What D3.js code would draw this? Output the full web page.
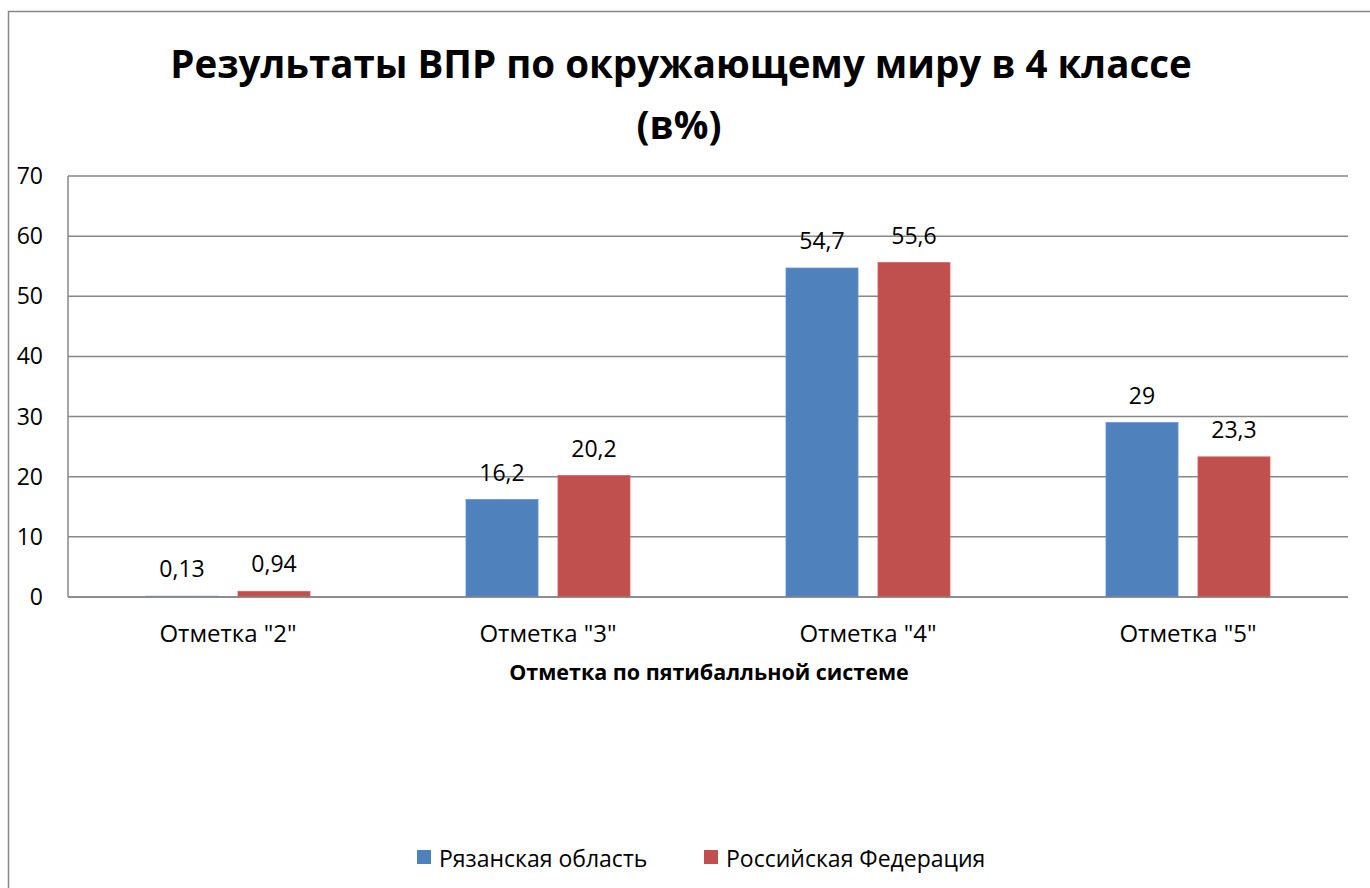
<!DOCTYPE html>
<html>
<head>
<meta charset="utf-8">
<script src="https://cdn.jsdelivr.net/npm/d3@7"></script>
<style>
  body { margin: 0; background: #fff; }
  svg { display: block; font-family: "Open Sans", "Noto Sans", sans-serif; }
  .grid line, .frame { stroke: #878787; stroke-width: 1.5; }
  .label { font-size: 23px; fill: #000; }
</style>
</head>
<body>
<svg id="chart" width="1370" height="888"></svg>
<script>
// data
let categories = ['Отметка "2"', 'Отметка "3"', 'Отметка "4"', 'Отметка "5"'];
let seriesNames = ["Рязанская область", "Российская Федерация"];
let ryazan = [0.13, 16.2, 54.7, 29];
let russia = [0.94, 20.2, 55.6, 23.3];
let labelsRyazan = ["0,13", "16,2", "54,7", "29"];
let labelsRussia = ["0,94", "20,2", "55,6", "23,3"];
let yTicks = [0, 10, 20, 30, 40, 50, 60, 70];
let colors = ["#4F81BD", "#C0504D"];

let svg = d3.select("#chart");

let plotLeft = 68, plotRight = 1348, plotTop = 176, plotBottom = 597;

// outer chart frame (runs off the picture on the right and bottom)
svg.append("rect")
  .attr("class", "frame")
  .attr("x", 8.5).attr("y", 11.5)
  .attr("width", 1400).attr("height", 900)
  .attr("fill", "none");

// title
let title = svg.append("text")
  .attr("text-anchor", "middle")
  .style("font-size", "38.5px")
  .style("font-weight", "bold");
title.append("tspan").attr("x", 681).attr("y", 78)
  .text("Результаты ВПР по окружающему миру в 4 классе");
title.append("tspan").attr("x", 679).attr("y", 139)
  .text("(в%)");

let y = d3.scaleLinear().domain([0, 70]).range([plotBottom, plotTop]);

let x0 = d3.scaleBand().domain(categories).range([plotLeft, plotRight]);

let x1 = d3.scaleBand().domain(seriesNames)
  .range([0, x0.bandwidth()])
  .paddingInner(0.217)
  .paddingOuter(0.848);

// gridlines
svg.append("g")
  .attr("class", "grid")
  .selectAll("line")
  .data(yTicks)
  .enter().append("line")
    .attr("x1", plotLeft).attr("x2", plotRight)
    .attr("y1", d => y(d)).attr("y2", d => y(d));

// y axis line
svg.append("line")
  .attr("class", "frame")
  .attr("x1", plotLeft).attr("x2", plotLeft)
  .attr("y1", plotTop).attr("y2", plotBottom);

// y tick labels
svg.append("g")
  .selectAll("text")
  .data(yTicks)
  .enter().append("text")
    .attr("class", "label")
    .attr("x", 43)
    .attr("y", d => y(d))
    .attr("dy", "0.35em")
    .attr("text-anchor", "end")
    .text(d => d);

// bars
let values = [ryazan, russia];
let labels = [labelsRyazan, labelsRussia];

seriesNames.forEach(function(name, s) {
  let g = svg.append("g");

  g.selectAll("rect")
    .data(categories)
    .enter().append("rect")
      .attr("x", d => x0(d) + x1(name))
      .attr("width", x1.bandwidth())
      .attr("y", (d, i) => y(values[s][i]))
      .attr("height", (d, i) => y(0) - y(values[s][i]))
      .attr("fill", colors[s])
      .attr("stroke", d3.color(colors[s]).brighter(0.4))
      .attr("stroke-width", 0.8);

  g.selectAll("text")
    .data(categories)
    .enter().append("text")
      .attr("class", "label")
      .attr("x", d => x0(d) + x1(name) + x1.bandwidth() / 2)
      .attr("y", (d, i) => y(values[s][i]) - 19)
      .attr("text-anchor", "middle")
      .text((d, i) => labels[s][i]);
});

// redraw zero line above bars
svg.append("line")
  .attr("class", "frame")
  .attr("x1", plotLeft).attr("x2", plotRight)
  .attr("y1", y(0)).attr("y2", y(0));

// category labels
svg.append("g")
  .selectAll("text")
  .data(categories)
  .enter().append("text")
    .attr("class", "label")
    .style("font-size", "24px")
    .attr("x", d => x0(d) + x0.bandwidth() / 2)
    .attr("y", 642)
    .attr("text-anchor", "middle")
    .text(d => d);

// axis title
svg.append("text")
  .attr("x", 709).attr("y", 680)
  .attr("text-anchor", "middle")
  .style("font-size", "21.5px")
  .style("font-weight", "bold")
  .text("Отметка по пятибалльной системе");

// legend
let legendX = [417, 704];
let legend = svg.append("g")
  .selectAll("g")
  .data(seriesNames)
  .enter().append("g")
    .attr("transform", (d, i) => "translate(" + legendX[i] + ",867)");

legend.append("rect")
  .attr("x", 0).attr("y", -17)
  .attr("width", 14).attr("height", 14)
  .attr("fill", (d, i) => colors[i]);

legend.append("text")
  .attr("class", "label")
  .attr("x", 22)
  .text(d => d);
</script>
</body>
</html>
